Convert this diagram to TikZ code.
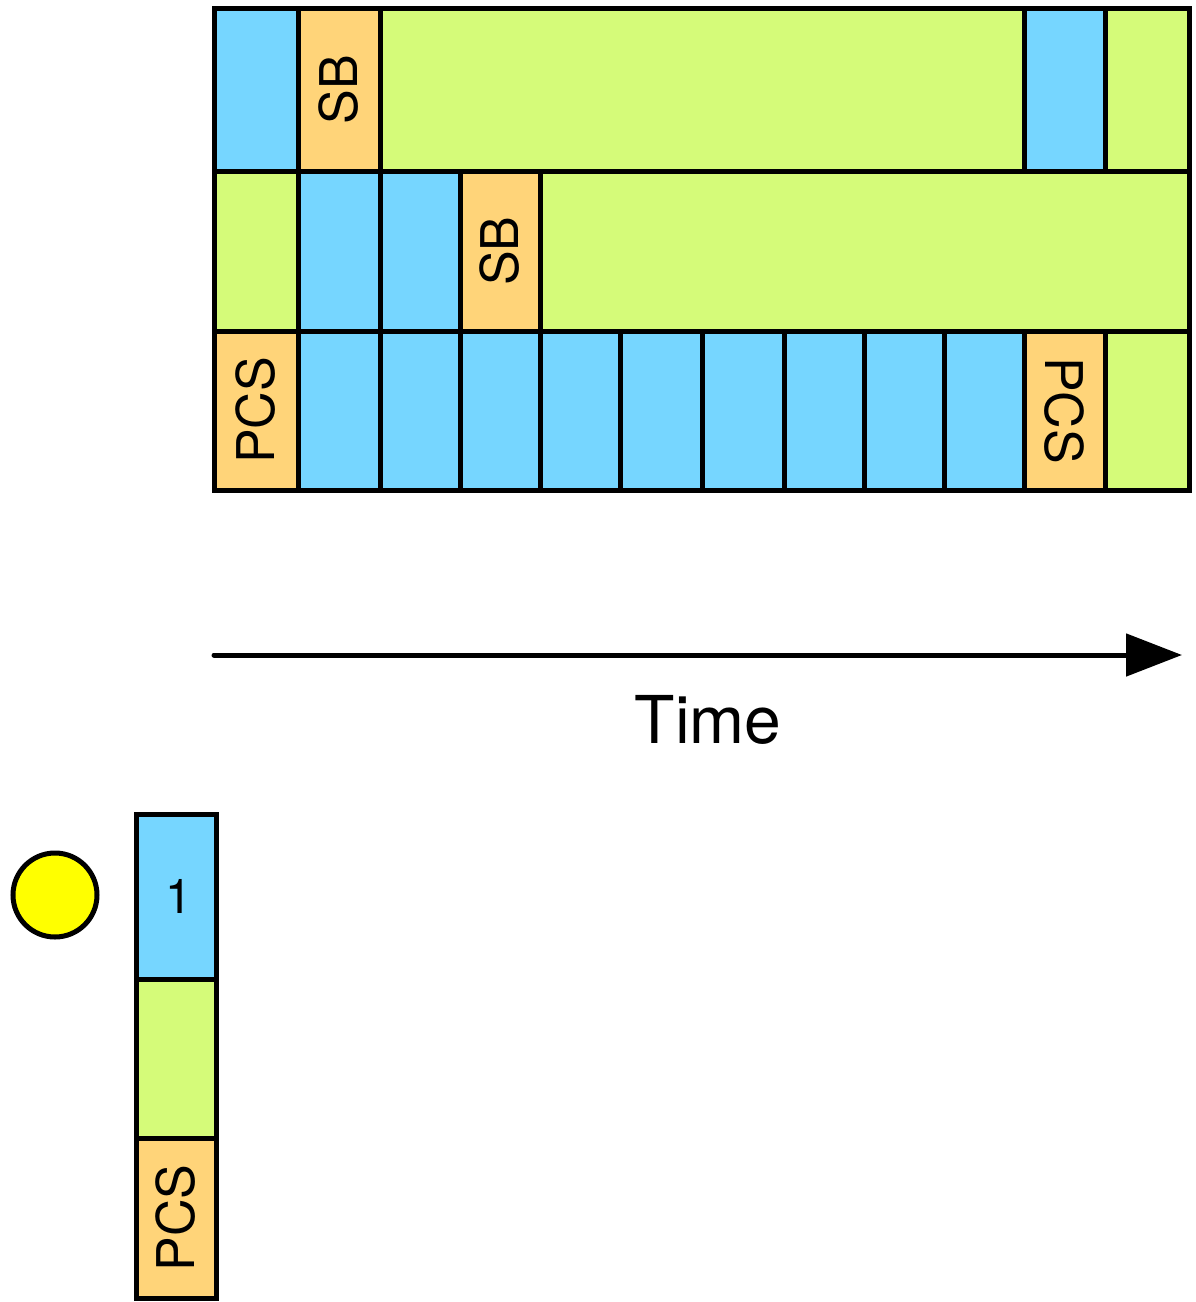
\documentclass[tikz,border=0pt]{standalone}
\usepackage{fontspec}
\setmainfont{TeX Gyre Heros}
\usepackage{graphicx}
\usetikzlibrary{fit,arrows.meta}
\definecolor{cblue}{HTML}{76D6FF}
\definecolor{cgreen}{HTML}{D5FB79}
\definecolor{corange}{HTML}{FFD479}
\definecolor{cyellow}{HTML}{FFFF00}
\tikzset{
  cell/.style={draw=black, line width=5pt, inner sep=0pt, outer sep=0pt},
  bl/.style={cell, fill=cblue},
  gr/.style={cell, fill=cgreen},
  og/.style={cell, fill=corange},
  lbl/.style={label={[font=\fontsize{52}{60}\selectfont, inner sep=0pt]center:#1}},
}
\newcommand\up[1]{\rotatebox{90}{#1}}
\newcommand\dn[1]{\rotatebox{-90}{#1}}
\begin{document}
\begin{tikzpicture}[x=1pt,y=-1pt]
\useasboundingbox (0,0) rectangle (1195,1302);
% row 1
\node[bl, fit={(214,8) (298,171)}] (r1a) {};
\node[og, fit={(298,8) (380,171)}, lbl={\up{SB}}] (r1b) {};
\node[gr, fit={(380,8) (1024,171)}] (r1c) {};
\node[bl, fit={(1024,8) (1105,171)}] (r1d) {};
\node[gr, fit={(1105,8) (1189,171)}] (r1e) {};
% row 2
\node[gr, fit={(214,171) (298,331)}] (r2a) {};
\node[bl, fit={(298,171) (380,331)}] (r2b) {};
\node[bl, fit={(380,171) (460,331)}] (r2c) {};
\node[og, fit={(460,171) (540,331)}, lbl={\up{SB}}] (r2d) {};
\node[gr, fit={(540,171) (1189,331)}] (r2e) {};
% row 3
\node[og, fit={(214,331) (298,490)}, lbl={\up{PCS}}] (r3a) {};
\node[bl, fit={(298,331) (380,490)}] (r3b) {};
\node[bl, fit={(380,331) (460,490)}] (r3c) {};
\node[bl, fit={(460,331) (540,490)}] (r3d) {};
\node[bl, fit={(540,331) (620,490)}] (r3e) {};
\node[bl, fit={(620,331) (702,490)}] (r3f) {};
\node[bl, fit={(702,331) (784,490)}] (r3g) {};
\node[bl, fit={(784,331) (864,490)}] (r3h) {};
\node[bl, fit={(864,331) (944,490)}] (r3i) {};
\node[bl, fit={(944,331) (1024,490)}] (r3j) {};
\node[og, fit={(1024,331) (1105,490)}, lbl={\dn{PCS}}] (r3k) {};
\node[gr, fit={(1105,331) (1189,490)}] (r3l) {};
% time arrow
\coordinate (ts) at (214,655);
\coordinate (te) at (1182,655);
\draw[line width=5pt, line cap=round, -{Triangle[length=56pt,width=42pt]}] (ts) -- (te);
\node[font=\fontsize{66}{74}\selectfont] (time) at (708,720) {Time};
% bottom
\node[draw=black, line width=5pt, fill=cyellow, circle, minimum size=84pt, inner sep=0pt] (sun) at (55,895) {};
\node[bl, fit={(136,814) (216,979)}, label={[font=\fontsize{48}{56}\selectfont, inner sep=0pt, xshift=3pt]center:1}] (b1) {};
\node[gr, fit={(136,979) (216,1138)}] (b2) {};
\node[og, fit={(136,1138) (216,1298)}, lbl={\up{PCS}}] (b3) {};
\end{tikzpicture}
\end{document}
